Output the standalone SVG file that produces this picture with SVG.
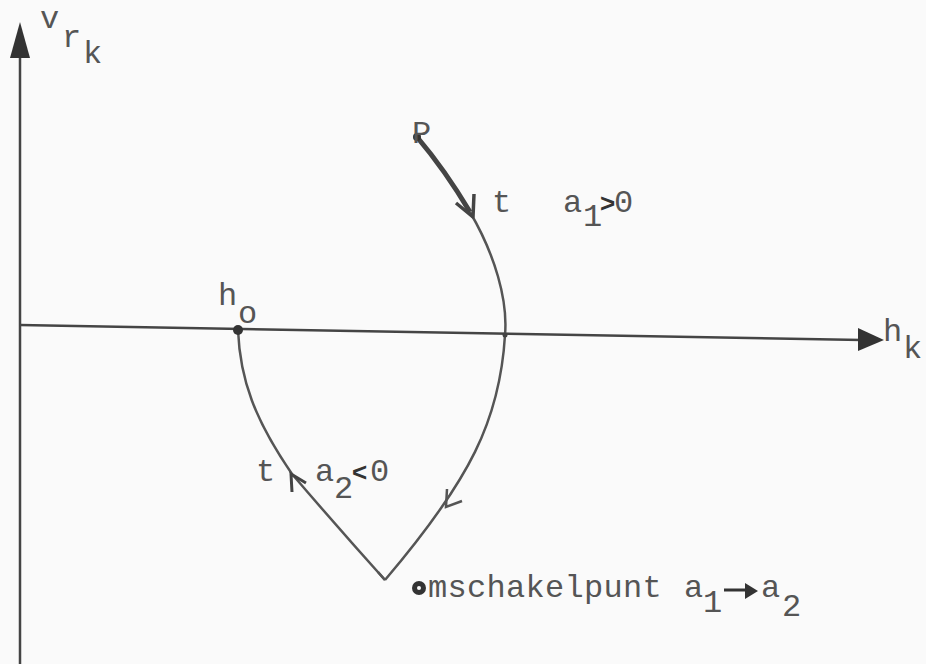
<svg xmlns="http://www.w3.org/2000/svg" width="926" height="664" viewBox="0 0 926 664">
<style>
.t{font-family:"Liberation Mono","Courier New",monospace;font-size:32px;fill:#555;letter-spacing:0.3px}
.s{font-family:"Liberation Mono","Courier New",monospace;font-size:32px;fill:#555}
.ax{stroke:#444;stroke-width:2.5;fill:none}
.cv{stroke:#555;stroke-width:2.5;fill:none}
</style>
<rect width="926" height="664" fill="#fafafa"/>
<g id="connectors">
<path class="ax" d="M20,664 L20,50"/>
<polygon points="20,22 10,58 30,58" fill="#333"/>
<path class="ax" d="M20,325 L862,340"/>
<polygon points="884,340 858,328 858,351" fill="#333"/>
<path d="M417,137 Q445,170 470,212" stroke="#444" stroke-width="5" fill="none"/>
<path class="cv" d="M470,212 C495,255 508,300 505,335 C500,420 470,480 385,580"/>
<path class="cv" d="M385,580 C340,530 310,495 292,474 C255,420 240,380 238,330"/>
<path d="M474,194 L473,217 L456,203" stroke="#444" stroke-width="3.5" fill="none" stroke-linejoin="round"/>
<path d="M447,489 L446,507 L462,501" stroke="#555" stroke-width="2.5" fill="none"/>
<path d="M292,492 L291,474 L306,483" stroke="#444" stroke-width="3" fill="none"/>
<path d="M378,572 L385,580" stroke="#555" stroke-width="2.5"/>
</g>
<g id="P">
<circle cx="417" cy="137" r="4" fill="#333"/>
<text class="s" x="412" y="143">P</text>
</g>
<g id="ho">
<circle cx="238" cy="330" r="5" fill="#333"/>
<text class="s" x="218" y="305">h</text>
<text class="s" x="238" y="323">o</text>
</g>
<g id="crossing">
<circle cx="505" cy="335" r="2.5" fill="#444"/>
</g>
<g id="labels">
<text class="s" x="40" y="28">v</text>
<text class="s" x="62" y="47">r</text>
<text class="s" x="83" y="63">k</text>
<text class="s" x="883" y="341">h</text>
<text class="s" x="903" y="358">k</text>
<text class="s" x="492" y="212">t</text>
<text class="s" x="563" y="212">a</text>
<text class="s" x="583" y="226">1</text>
<text x="600" y="212" font-family="Liberation Sans,Arial,sans-serif" font-size="26" font-weight="bold" fill="#333">&gt;</text>
<text class="s" x="614" y="212">0</text>
<text class="s" x="256" y="481">t</text>
<text class="s" x="315" y="481">a</text>
<text class="s" x="334" y="498">2</text>
<text x="352" y="481" font-family="Liberation Sans,Arial,sans-serif" font-size="26" font-weight="bold" fill="#333">&lt;</text>
<text class="s" x="370" y="481">0</text>
</g>
<g id="omschakelpunt">
<circle cx="419" cy="588" r="7" fill="#333"/>
<circle cx="419" cy="588" r="2" fill="#fafafa"/>
<text class="t" x="428" y="597">mschakelpunt</text>
<text class="t" x="684" y="597">a</text>
<text class="t" x="703" y="612">1</text>
<path d="M724,590 L748,590" stroke="#333" stroke-width="3"/>
<polygon points="758,591 745,583 745,599" fill="#333"/>
<text class="t" x="761" y="597">a</text>
<text class="t" x="782" y="616">2</text>
</g>
</svg>
